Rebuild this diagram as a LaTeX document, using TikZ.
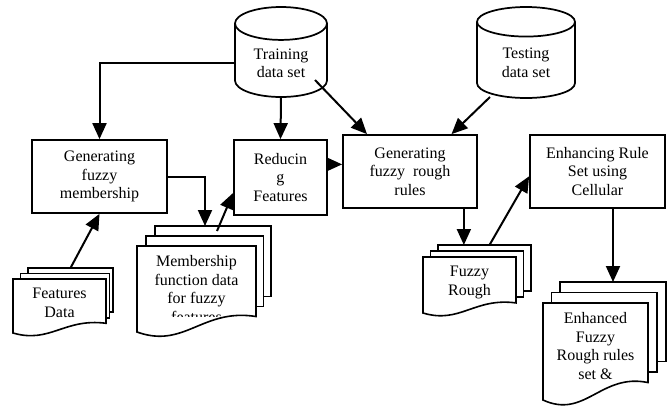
\documentclass[tikz,border=0pt]{standalone}
\usepackage{fontspec}
\setmainfont{Liberation Serif}
\usetikzlibrary{positioning, shapes.geometric, arrows.meta, calc}

\begin{document}
\begin{tikzpicture}[
    x=0.75pt, y=-0.75pt,
    every node/.style={font=\fontsize{12}{14}\selectfont, align=center},
    >={Triangle[length=12pt, width=10.5pt]},
    flow/.style={->, line width=1.5pt},
    procbox/.style 2 args={draw, line width=1.3pt, fill=white, minimum width=#1, minimum height=#2, inner sep=2pt},
    dbase/.style={cylinder, shape border rotate=90, draw, line width=1.3pt, aspect=0.55, inner sep=2pt, anchor=shape center},
    page/.style={draw, fill=white, line width=1.2pt},
    doctext/.style={anchor=north, inner sep=0pt},
]
\useasboundingbox (0,0) rectangle (669,408);

% Helper for stacked documents (three pages, wavy bottom on the front one)
% #1=name, #2=left, #3=top, #4=right, #5=height, #6=step x, #7=step y, #8=step right, #9=text
\newcommand{\docstack}[9]{
    % Back pages
    \filldraw[page] (#2+2*#6,#3-2*#7) rectangle (#4+2*#8,#3+0.82*#5-2*#7);
    \filldraw[page] (#2+#6,#3-#7) rectangle (#4+#8,#3+0.82*#5-#7);
    % Front page
    \filldraw[page] (#2,#3) -- (#4,#3) -- (#4,#3+0.82*#5)
        .. controls ({#2+0.55*(#4-#2)},#3+0.72*#5) and ({#2+0.4*(#4-#2)},#3+1.2*#5) .. (#2,#3+#5) -- cycle;
    % Text, cut off at the text area
    \begin{scope}
        \clip (#2,#3) rectangle (#4,#3+0.82*#5);
        \node[doctext] (#1) at ({(#2+#4)/2},#3+9) {#9};
    \end{scope}
    \coordinate (#1top) at ({(#2+#4)/2+#6+#8},#3-2*#7);
}

% Data bases
\node[dbase, minimum width=69pt, minimum height=67.5pt] (train) at (281,52) {Training\\data set};
\node[dbase, minimum width=73.5pt, minimum height=68.25pt] (test) at (526,52.5) {Testing\\data set};

% Processing steps
\node[procbox={101.25pt}{54.75pt}] (genmem) at (99.5,176.5) {Generating\\fuzzy\\membership};
\node[procbox={69.75pt}{56.25pt}] (reduce) at (280.5,177.5) {Reducin\\g\\Features};
\node[procbox={100.5pt}{54.75pt}] (genrough) at (410,171.5) {Generating\\fuzzy~~rough\\rules};
\node[procbox={101.25pt}{54.75pt}] (enhance) at (597.5,171.5) {Enhancing Rule\\Set using\\Cellular};

% Documents
\docstack{feat}{13}{279}{106}{54}{7.5}{5.5}{3.5}{Features\\Data}
\docstack{memb}{137}{246}{256}{86}{9}{10}{7.5}{Membership\\function data\\for fuzzy\\features}
\docstack{fuzz}{423}{257}{516}{56}{7.5}{6}{7.5}{Fuzzy\\Rough}
\docstack{enh}{543}{303}{648}{97}{8.5}{10.5}{9}{Enhanced\\Fuzzy\\Rough rules\\set \&}

% Connectors
\draw[flow] (train.west) -| (genmem.north);
\draw[flow] (train.south) -- (reduce.north);
\coordinate (trainout) at (315,80);
\draw[flow] (trainout) -- (genrough.139);
\coordinate (testout) at (490,97);
\draw[flow] (testout) -- (genrough.42);
\draw[flow] (reduce.east |- genrough.174) -- (genrough.174);
\draw[flow] (genmem.east) -| ($(membtop)+(-8,0)$);
\draw[flow] (feattop) -- (genmem.south);
\draw[flow] ($(membtop)+(4,5)$) -- (reduce.198);
\coordinate (rulesout) at ($(genrough.south east)+(-14,0)$);
\draw[flow] (rulesout) -- (rulesout |- fuzztop);
\draw[flow] ($(fuzztop)+(5,0)$) -- (enhance.184);
\draw[flow] (enhtop |- enhance.south) -- (enhtop);

\end{tikzpicture}
\end{document}
